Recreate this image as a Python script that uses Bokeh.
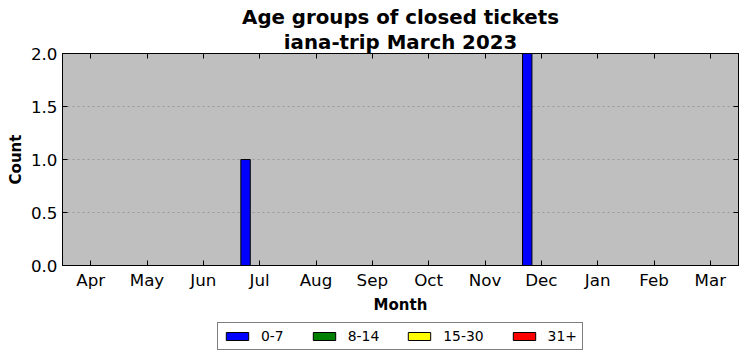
from bokeh.plotting import figure
from bokeh.layouts import column
from bokeh.models import (ColumnDataSource, Range1d, FixedTicker, LinearAxis, Title,
                          Legend, LegendItem, CustomJSTickFormatter, NumeralTickFormatter)
from bokeh.embed import file_html
from bokeh.resources import INLINE

months = ["Apr", "May", "Jun", "Jul", "Aug", "Sep", "Oct", "Nov", "Dec", "Jan", "Feb", "Mar"]
groups = ["0-7", "8-14", "15-30", "31+"]
colors = ["#0000ff", "#008000", "#ffff00", "#ff0000"]
age_0_7 = [0, 0, 0, 1, 0, 0, 0, 0, 2, 0, 0, 0]
age_8_14 = [0, 0, 0, 0, 0, 0, 0, 0, 0, 0, 0, 0]
age_15_30 = [0, 0, 0, 0, 0, 0, 0, 0, 0, 0, 0, 0]
age_31p = [0, 0, 0, 0, 0, 0, 0, 0, 0, 0, 0, 0]
series = [age_0_7, age_8_14, age_15_30, age_31p]
y_ticks = [0.0, 0.5, 1.0, 1.5, 2.0]
title_lines = ["Age groups of closed tickets", "iana-trip March 2023"]

FONT = "DejaVu Sans"
BAR_W = 0.167

p = figure(width=747, height=318, x_range=Range1d(0, len(months)), y_range=Range1d(0, 2),
           output_backend="svg", toolbar_location=None,
           background_fill_color="#bfbfbf", border_fill_color="white",
           min_border_left=62, min_border_right=9, min_border_top=53, min_border_bottom=53)
p.outline_line_color = "black"
p.outline_line_width = 1

p.title.text = title_lines[0]
p.title.align = "center"
p.title.text_font = FONT
p.title.text_font_size = "19.8px"
p.title.text_font_style = "bold"
p.title.text_color = "black"
p.title.standoff = 0

centers = [i + 0.5 for i in range(len(months))]
renderers = []
for k, (g, c, vals) in enumerate(zip(groups, colors, series)):
    xs = [ci + (k - 1.5) * BAR_W for ci in centers]
    src = ColumnDataSource(dict(x=xs, top=vals))
    r = p.vbar(x="x", top="top", bottom=0, width=BAR_W, source=src,
               fill_color=c, line_color="black", line_width=1)
    renderers.append(r)

# axes
p.xaxis.ticker = FixedTicker(ticks=centers)
p.xaxis.major_label_overrides = {c: m for c, m in zip(centers, months)}
p.xaxis.axis_label = "Month"
p.yaxis.axis_label = "Count"
p.yaxis.ticker = FixedTicker(ticks=y_ticks)
p.yaxis.formatter = NumeralTickFormatter(format="0.0")
for ax in (p.xaxis[0], p.yaxis[0]):
    ax.major_tick_in = 5
    ax.major_tick_out = 0
    ax.minor_tick_in = 0
    ax.minor_tick_out = 0
    ax.axis_line_color = "black"
    ax.major_tick_line_color = "black"
    ax.major_label_text_font = FONT
    ax.major_label_text_font_size = "16.7px"
    ax.major_label_text_color = "black"
    ax.axis_label_text_font = FONT
    ax.axis_label_text_font_size = "15px"
    ax.axis_label_text_font_style = "bold"
    ax.axis_label_text_color = "black"
p.xaxis.major_label_standoff = 4
p.yaxis.major_label_standoff = 5
p.xaxis.axis_label_standoff = 3
p.yaxis.axis_label_standoff = 3

empty = CustomJSTickFormatter(code="return ''")
top_ax = LinearAxis(ticker=FixedTicker(ticks=centers), formatter=empty,
                    major_tick_in=5, major_tick_out=0, minor_tick_in=0, minor_tick_out=0,
                    major_label_standoff=0, axis_label_standoff=0,
                    major_label_text_font_size="0px", axis_line_color="black")
right_ax = LinearAxis(ticker=FixedTicker(ticks=y_ticks), formatter=empty,
                      major_tick_in=5, major_tick_out=0, minor_tick_in=0, minor_tick_out=0,
                      major_label_standoff=0, axis_label_standoff=0,
                      major_label_text_font_size="0px", axis_line_color="black")
p.add_layout(top_ax, "above")
t2 = Title(text=title_lines[1], align="center", text_font=FONT, text_font_size="19.8px",
           text_font_style="bold", text_color="black", standoff=0)
p.add_layout(t2, "above")
p.add_layout(right_ax, "right")

p.xgrid.grid_line_color = None
p.ygrid.grid_line_color = "#999999"
p.ygrid.grid_line_dash = "2 3"
p.ygrid.grid_line_width = 1

# legend in a separate strip below the chart
lf = figure(width=747, height=43, x_range=Range1d(0, 1), y_range=Range1d(0, 1),
            output_backend="svg", toolbar_location=None,
            x_axis_location=None, y_axis_location=None,
            min_border_left=0, min_border_right=0, min_border_top=0, min_border_bottom=0)
lf.grid.visible = False
lf.outline_line_color = None
lf.background_fill_color = "white"
lf.border_fill_color = "white"
leg_renderers = []
for g, c in zip(groups, colors):
    # legend swatch carriers, kept outside the visible range of the strip
    r = lf.vbar(x=[5], top=[0], width=0.1, fill_color=c, line_color="black", line_width=1)
    leg_renderers.append(r)

legend = Legend(items=[LegendItem(label=g, renderers=[r]) for g, r in zip(groups, leg_renderers)],
                orientation="horizontal", location=(155, 11))
legend.border_line_color = "black"
legend.border_line_width = 1
legend.label_text_font = FONT
legend.label_text_font_size = "13.9px"
legend.label_text_color = "black"
legend.glyph_width = 28
legend.glyph_height = 10
legend.label_standoff = 10
legend.spacing = 26
legend.padding = 5
legend.margin = 0
legend.background_fill_color = "white"
lf.add_layout(legend, "center")

layout = column(p, lf, spacing=0)
open("out.html", "w").write(file_html(layout, INLINE))
